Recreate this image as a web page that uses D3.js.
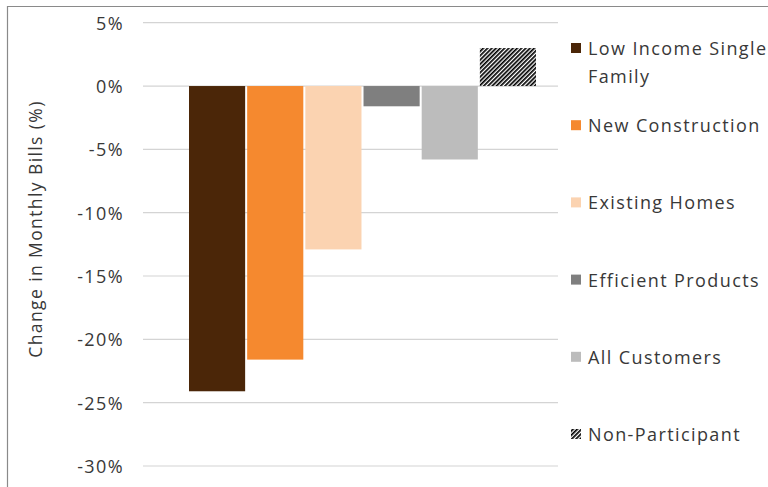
<!DOCTYPE html>
<html>
<head>
<meta charset="utf-8">
<script src="https://cdn.jsdelivr.net/npm/d3@7"></script>
<style>
  html, body { margin: 0; padding: 0; background: #fff; }
  svg { display: block; }
  .lbl { font-family: "Open Sans", sans-serif; font-size: 18px; letter-spacing: 1.4px; fill: #383838; }
</style>
</head>
<body>
<script>
// Program groups and their change in monthly bills (%)
const categories = ["Low Income Single Family", "New Construction", "Existing Homes",
                    "Efficient Products", "All Customers", "Non-Participant"];
const values = [-24.1, -21.6, -12.9, -1.6, -5.8, 3.0];
const legendLines = [["Low Income Single", "Family"], ["New Construction"], ["Existing Homes"],
                     ["Efficient Products"], ["All Customers"], ["Non-Participant"]];
const yTicks = [5, 0, -5, -10, -15, -20, -25, -30];
const fills = ["#4b2608", "#f5892f", "#fbd3b1", "#7f7f7f", "#bcbcbc", "url(#hatch)"];

const W = 768, H = 487;
const svg = d3.select("body").append("svg").attr("width", W).attr("height", H);

// Diagonal hatch used for the non-participant bar
const pat = svg.append("defs").append("pattern")
  .attr("id", "hatch").attr("patternUnits", "userSpaceOnUse")
  .attr("width", 3).attr("height", 3)
  .attr("patternTransform", "rotate(45)");
pat.append("rect").attr("width", 3).attr("height", 3).attr("fill", "#fff");
pat.append("line").attr("x1", 0.85).attr("y1", 0).attr("x2", 0.85).attr("y2", 3)
  .attr("stroke", "#000").attr("stroke-width", 1.7);

// Chart frame (top and left edges)
svg.append("path").attr("d", "M7.5,487V6.5H768").attr("fill", "none")
  .attr("stroke", "#8a8a8a").attr("stroke-width", 1.2);

const plotL = 143, plotR = 558;
const y = d3.scaleLinear().domain([-30, 5]).range([466, 22.7]);
const x = d3.scaleBand().domain(categories).range([189, 536]).paddingInner(0.035);

// Gridlines
svg.append("g").selectAll("line").data(yTicks).join("line")
  .attr("x1", plotL).attr("x2", plotR)
  .attr("y1", d => y(d)).attr("y2", d => y(d))
  .attr("stroke", "#d4d4d4").attr("stroke-width", 1.2);

// Y axis labels
const ax = svg.append("g").attr("transform", "translate(124,0)")
  .call(d3.axisLeft(y).tickValues(yTicks).tickFormat(d => d + "%").tickSize(0).tickPadding(0));
ax.select(".domain").remove();
ax.selectAll("text").attr("class", "lbl").attr("font-size", null).attr("font-family", null)
  .attr("dy", "0.36em");
ax.attr("font-size", null).attr("font-family", null);

// Bars
svg.append("g").selectAll("rect").data(categories).join("rect")
  .attr("x", d => x(d))
  .attr("width", x.bandwidth())
  .attr("y", (d, i) => y(Math.max(0, values[i])))
  .attr("height", (d, i) => Math.abs(y(values[i]) - y(0)))
  .attr("fill", (d, i) => fills[i]);

// Y axis title
svg.append("text").attr("class", "lbl")
  .attr("transform", "translate(42,229) rotate(-90)")
  .attr("text-anchor", "middle")
  .style("font-size", "17.5px")
  .text("Change in Monthly Bills (%)");

// Legend
const leg = svg.append("g").selectAll("g").data(categories).join("g")
  .attr("transform", (d, i) => `translate(0,${55 + i * 77.2})`);
leg.append("rect").attr("x", 571).attr("y", -12).attr("width", 10).attr("height", 10)
  .attr("fill", (d, i) => fills[i]);
leg.append("text").attr("class", "lbl").attr("x", 588)
  .selectAll("tspan").data((d, i) => legendLines[i]).join("tspan")
  .attr("x", 588).attr("dy", (d, j) => j === 0 ? 0 : 28).text(d => d);
</script>
</body>
</html>
